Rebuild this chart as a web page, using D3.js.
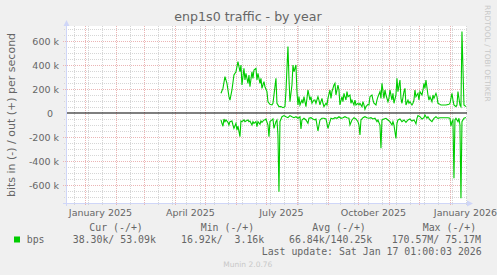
<!DOCTYPE html>
<html>
<head>
<meta charset="utf-8">
<script src="https://cdn.jsdelivr.net/npm/d3@7"></script>
<style>
  body { margin: 0; background: #f0f0f0; }
  svg { display: block; }
</style>
</head>
<body>
<div id="chart"></div>
<script>
// Define SVG dimensions
const width = 497;
const height = 275;
const plot = { left: 66, right: 466, top: 26, bottom: 203 };

// The graph ends at the last update and covers 400 days
const endTime = new Date(2026, 0, 17, 1, 0, 3);
const startTime = d3.timeDay.offset(endTime, -400);
const dayZero = new Date(2025, 0, 1); // day numbers below count from 1 Jan 2025

// Daily traffic, out (+), in k bits per second
const outDay = [136,138,140,142,144,145,147,149,151,152,153,155,156,157,159,160,161,163,164,165,167,168,169,171,172,173,175,176,177,179,
  180,182,183,185,187,188,191,192,194,196,198,200,201,202,203,204,205,207,208,209,211,212,213,214,215,217,218,219,221,222,223,225,226,227,229,
  230,231,233,234,235,237,238,239,241,242,243,245,246,247,249,250,251,253,254,255,257,258,259,261,262,263,265,266,267,269,270,271,273,274,275,277,278,279,
  280,281,283,284,285,287,288,289,291,292,293,295,296,297,299,300,301,303,304,305,307,308,309,311,312,313,315,316,317,319,320,321,323,324,325,327,328,329,
  330,331,333,334,335,337,338,339,340,341,343,344,345,347,348,349,351,352,353,355,356,359,361,364,365,367,368,369,371,372,373,375,376,377,379,381];
const outK = [164,205,303,247,136,108,192,317,344,386,428,344,400,233,372,275,330,247,317,219,344,289,358,372,275,330,247,289,205,261,
  219,178,94,72,67,81,289,81,53,53,44,53,178,372,553,289,94,233,400,344,400,178,67,136,67,108,81,136,53,122,192,108,136,81,108,
  108,81,136,108,67,122,81,53,81,67,122,192,122,178,233,247,150,233,192,67,136,94,164,108,178,136,150,81,108,67,108,67,81,67,81,53,94,67,
  30,53,72,67,136,150,108,81,67,108,136,178,122,247,122,192,150,94,122,192,108,164,81,150,289,178,275,122,81,178,205,67,108,81,94,67,81,108,
  192,136,164,108,178,150,192,247,205,275,150,108,136,94,150,122,164,136,81,72,67,67,67,72,81,164,108,67,53,67,178,67,53,680,67,53];

// Daily traffic, in (-), in k bits per second (drawn below zero)
const inDay = [136,137,138,139,140,141,143,144,145,147,148,149,151,152,153,155,156,157,159,160,161,163,164,165,167,168,169,171,172,173,175,176,177,179,
  180,181,183,184,185,187,188,189,191,192,193,194,195,197,199,201,203,205,207,209,211,213,215,216,217,219,221,223,224,226,228,
  230,231,233,235,237,239,241,242,243,245,246,248,250,252,254,256,258,260,262,264,265,267,269,271,273,274,275,276,278,
  280,282,284,286,288,290,292,293,295,296,297,299,301,303,305,307,308,309,311,312,313,315,317,319,321,323,325,327,329,
  330,331,332,333,335,337,339,340,342,343,345,347,349,351,352,353,355,358,361,363,365,366,367,368,369,370,371,373,374,375,376,377,379,381];
const inK = [58,86,110,50,72,58,78,100,72,67,100,128,86,142,110,197,67,72,58,72,67,58,72,67,100,72,86,72,114,72,94,67,78,58,
  58,50,100,197,72,58,50,128,72,58,183,656,72,31,22,31,39,22,31,39,31,44,31,133,58,44,58,86,44,39,50,
  58,50,150,58,44,44,50,86,128,72,44,50,39,44,31,44,39,31,39,44,100,58,39,50,72,100,183,58,39,
  31,39,44,39,50,44,72,58,100,294,58,50,44,58,72,100,72,100,211,86,58,50,72,58,78,58,50,67,58,
  72,90,44,22,31,50,39,17,44,31,58,72,44,31,39,44,39,39,39,39,44,110,72,58,544,58,44,72,44,100,711,72,44,38];

// Axis ticks and labels
const yTicks = [-600, -400, -200, 0, 200, 400, 600];
const yTickLabels = ["-600 k", "-400 k", "-200 k", "0", "200 k", "400 k", "600 k"];
const xTickMonths = ["2025-01", "2025-04", "2025-07", "2025-10", "2026-01"];
const xTickLabels = ["January 2025", "April 2025", "July 2025", "October 2025", "January 2026"];

// Legend
const legendHead = ["Cur (-/+)", "Min (-/+)", "Avg (-/+)", "Max (-/+)"];
const legendVals = ["38.30k/ 53.09k", "16.92k/  3.16k", "66.84k/140.25k", "170.57M/ 75.17M"];

const green = "#00cc00";
const axisColour = "#cfd6f8";
const textColour = "#666666";
const minorGrid = "#d6d6d6";
const majorGrid = "#ebb4b4";

// Create an SVG element
const svg = d3.select("#chart")
    .append("svg")
    .attr("width", width)
    .attr("height", height)
    .style("background-color", "#f0f0f0");

const x = d3.scaleTime().domain([startTime, endTime]).range([plot.left, plot.right]);
const y = d3.scaleLinear().domain([-750, 725]).range([plot.bottom, plot.top]);
const crisp = v => Math.round(v) + 0.5;

// canvas
svg.append("rect")
    .attr("x", plot.left).attr("y", plot.top)
    .attr("width", plot.right - plot.left + 1).attr("height", plot.bottom - plot.top)
    .attr("fill", "#ffffff");

// vertical grid: every other week (minor), month starts (major)
const minorDays = d3.timeDay.range(new Date(2024, 11, 21), endTime, 14);
const months = d3.timeMonth.range(startTime, endTime);
const grid = svg.append("g");

grid.selectAll(".vmin").data(minorDays).enter().append("line")
    .attr("x1", d => crisp(x(d))).attr("x2", d => crisp(x(d)))
    .attr("y1", plot.top).attr("y2", plot.bottom + 2)
    .attr("stroke", minorGrid).attr("stroke-dasharray", "1,1");

// horizontal grid every 50k, major every 200k
const hLines = d3.range(-700, 701, 50);
grid.selectAll(".hmin").data(hLines.filter(v => v % 200 !== 0)).enter().append("line")
    .attr("x1", plot.left - 2).attr("x2", plot.right + 1)
    .attr("y1", d => crisp(y(d))).attr("y2", d => crisp(y(d)))
    .attr("stroke", minorGrid).attr("stroke-dasharray", "1,1");

grid.selectAll(".vmaj").data(months).enter().append("line")
    .attr("x1", d => crisp(x(d))).attr("x2", d => crisp(x(d)))
    .attr("y1", plot.top).attr("y2", plot.bottom + 3)
    .attr("stroke", majorGrid).attr("stroke-dasharray", "1,1");

grid.selectAll(".hmaj").data(hLines.filter(v => v % 200 === 0 && v !== 0)).enter().append("line")
    .attr("x1", plot.left - 3).attr("x2", plot.right + 1)
    .attr("y1", d => crisp(y(d))).attr("y2", d => crisp(y(d)))
    .attr("stroke", majorGrid).attr("stroke-dasharray", "1,1");

// axes lines with arrows
svg.append("line")
    .attr("x1", plot.left + 0.5).attr("x2", plot.left + 0.5)
    .attr("y1", plot.bottom + 3).attr("y2", plot.top - 3)
    .attr("stroke", axisColour);
svg.append("path")
    .attr("d", `M${plot.left - 2.5},${plot.top} L${plot.left + 3.5},${plot.top} L${plot.left + 0.5},${plot.top - 6} Z`)
    .attr("fill", axisColour);
svg.append("line")
    .attr("x1", plot.left - 3).attr("x2", plot.right + 2)
    .attr("y1", plot.bottom + 0.5).attr("y2", plot.bottom + 0.5)
    .attr("stroke", axisColour);
svg.append("path")
    .attr("d", `M${plot.right + 1},${plot.bottom - 2.5} L${plot.right + 1},${plot.bottom + 3.5} L${plot.right + 7},${plot.bottom + 0.5} Z`)
    .attr("fill", axisColour);

// zero rule
svg.append("line")
    .attr("x1", plot.left + 1).attr("x2", plot.right + 1)
    .attr("y1", y(0)).attr("y2", y(0))
    .attr("stroke", "#000000").attr("stroke-width", 1.2);

// data lines
const outData = outDay.map((d, i) => ({ date: d3.timeDay.offset(dayZero, d), v: outK[i] }));
const inData = inDay.map((d, i) => ({ date: d3.timeDay.offset(dayZero, d), v: -inK[i] }));
const line = d3.line().x(d => x(d.date)).y(d => y(d.v));

svg.append("path").datum(inData)
    .attr("d", line).attr("fill", "none")
    .attr("stroke", green).attr("stroke-width", 1.1);
svg.append("path").datum(outData)
    .attr("d", line).attr("fill", "none")
    .attr("stroke", green).attr("stroke-width", 1.1);

// y axis labels
const yAxis = d3.axisLeft(y)
    .tickValues(yTicks)
    .tickSize(0)
    .tickPadding(7)
    .tickFormat((d, i) => yTickLabels[i]);
const yg = svg.append("g")
    .attr("transform", `translate(${plot.left},0)`)
    .call(yAxis);
yg.select(".domain").remove();
yg.selectAll("text")
    .attr("font-family", "DejaVu Sans").attr("font-size", "9.5px").attr("fill", textColour)
    .attr("dx", d => d === 0 ? -6 : 0);

// x axis labels, centred in the middle of each labelled month
const xAxis = d3.axisBottom(x)
    .tickValues(xTickMonths.map(m => d3.timeDay.offset(d3.timeParse("%Y-%m")(m), 15)))
    .tickSize(0)
    .tickPadding(6)
    .tickFormat((d, i) => xTickLabels[i]);
const xg = svg.append("g")
    .attr("transform", `translate(0,${plot.bottom})`)
    .call(xAxis);
xg.select(".domain").remove();
xg.selectAll("text")
    .attr("font-family", "DejaVu Sans").attr("font-size", "9.5px").attr("fill", textColour);

// title
svg.append("text")
    .attr("x", 248).attr("y", 21)
    .attr("text-anchor", "middle")
    .attr("font-family", "DejaVu Sans").attr("font-size", "12.6px")
    .attr("fill", textColour)
    .text("enp1s0 traffic - by year");

// vertical unit label
svg.append("text")
    .attr("transform", "translate(14.5,115) rotate(-90)")
    .attr("text-anchor", "middle")
    .attr("font-family", "DejaVu Sans").attr("font-size", "11px")
    .attr("fill", textColour)
    .text("bits in (-) / out (+) per second");

// watermark
svg.append("text")
    .attr("transform", "translate(484.6,5) rotate(90)")
    .attr("font-family", "DejaVu Sans").attr("font-size", "7.5px")
    .attr("fill", "#c8c8c8")
    .text("RRDTOOL / TOBI OETIKER");

// legend
const legend = svg.append("g").attr("fill", textColour)
    .attr("font-family", "DejaVu Sans Mono").attr("font-size", "9.9px")
    .style("white-space", "pre");

const headX = [89.3, 200.7, 312.3, 422.7];
const valX = [72.7, 181, 289, 391.7];

legend.selectAll(".head").data(legendHead).enter().append("text")
    .attr("x", (d, i) => headX[i]).attr("y", 231)
    .attr("xml:space", "preserve")
    .text(d => d);

svg.append("rect")
    .attr("x", 14).attr("y", 236.5).attr("width", 6).attr("height", 6)
    .attr("fill", green);
legend.append("text").attr("x", 26.7).attr("y", 242.8).text("bps");

legend.selectAll(".val").data(legendVals).enter().append("text")
    .attr("x", (d, i) => valX[i]).attr("y", 242.8)
    .attr("xml:space", "preserve")
    .text(d => d);

legend.append("text")
    .attr("x", 261.7).attr("y", 254.5)
    .attr("xml:space", "preserve")
    .text("Last update: Sat Jan 17 01:00:03 2026");

svg.append("text")
    .attr("x", 223.3).attr("y", 267)
    .attr("font-family", "DejaVu Sans").attr("font-size", "7.5px")
    .attr("fill", "#c8c8c8")
    .text("Munin 2.0.76");
</script>
</body>
</html>
